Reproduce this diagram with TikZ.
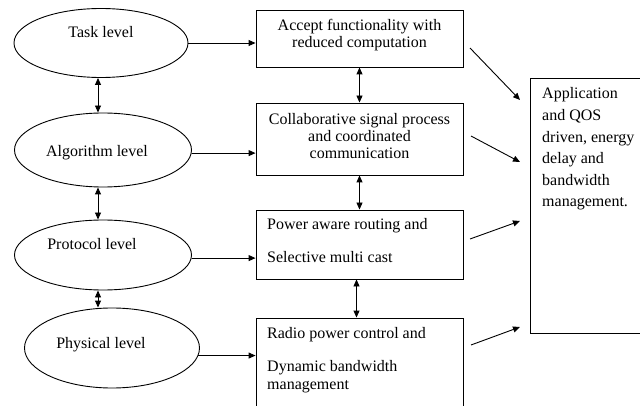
\documentclass[tikz,border=0pt]{standalone}
\usepackage{fontspec}
\setmainfont{Liberation Serif}
\usetikzlibrary{shapes.geometric,arrows.meta}
\begin{document}
\begin{tikzpicture}[x=1pt,y=-1pt,
  lw/.style={line width=0.9pt},
  lvl/.style={draw,lw,ellipse,inner sep=0pt},
  box/.style={draw,lw,rectangle,inner sep=0pt,minimum width=207pt},
  txt/.style={inner sep=0pt,font=\fontsize{16}{17.3}\selectfont},
  arr/.style={lw,-{Triangle[length=7pt,width=6pt]}},
  dbl/.style={lw,{Triangle[length=7pt,width=6pt]}-{Triangle[length=7pt,width=6pt]}}]
\useasboundingbox (0,0) rectangle (640,406);
\clip (0,0) rectangle (640,406);
% ellipses
\node[lvl,minimum width=174pt,minimum height=69pt] (task) at (101,43) {};
\node[lvl,minimum width=177pt,minimum height=74pt] (alg) at (103,150) {};
\node[lvl,minimum width=177pt,minimum height=70pt] (prot) at (103,255) {};
\node[lvl,minimum width=175pt,minimum height=80pt] (phys) at (112,348) {};
\node[txt,anchor=base] (tasktxt) at (101,38) {Task level};
\node[txt,anchor=base] (algtxt) at (97,157) {Algorithm level};
\node[txt,anchor=base] (prottxt) at (92,250) {Protocol level};
\node[txt,anchor=base] (phystxt) at (101,348) {Physical level};
% boxes
\node[box,minimum height=57pt] (box1) at (359.5,38.5) {};
\node[box,minimum height=72pt] (box2) at (359.5,139) {};
\node[box,minimum height=69pt] (box3) at (359.5,244.5) {};
\node[box,minimum height=102pt] (box4) at (359.5,369) {};
\node[draw,lw,rectangle,inner sep=0pt,minimum width=130pt,minimum height=255pt] (app) at (595,205.5) {};
\node[txt,anchor=base,align=center] (t1) at (359.5,48) {Accept functionality with\\reduced computation};
\node[txt,anchor=base,align=center] (t2) at (359.5,159) {Collaborative signal process\\and coordinated\\communication};
\node[txt,anchor=base west,align=left] (t3) at (267,262) {Power aware routing and\\[15pt]Selective multi cast};
\node[txt,anchor=base west,align=left] (t4) at (267,389) {Radio power control and\\[16pt]Dynamic bandwidth\\management};
\node[txt,anchor=base west,align=left,font=\fontsize{16}{21.6}\selectfont] (t5) at (542,207) {Application\\and QOS\\driven, energy\\delay and\\bandwidth\\management.};
% horizontal arrows
\draw[arr] (task.east) -- (task.east -| box1.west);
\draw[arr] (alg.-2) -- (alg.-2 -| box2.west);
\draw[arr] (prot.-2) -- (prot.-2 -| box3.west);
\draw[arr] (phys.-5) -- (phys.-5 -| box4.west);
% vertical arrows between ellipses
\draw[dbl] ([xshift=-3pt]task.south) -- ([xshift=-3pt]task.south |- alg.north);
\draw[dbl] ([xshift=-5pt]alg.south) -- ([xshift=-5pt]alg.south |- prot.north);
\draw[dbl] ([xshift=-5pt]prot.south) -- ([xshift=-5pt]prot.south |- phys.north);
% vertical arrows between boxes
\draw[dbl] (box1.south) -- (box2.north);
\draw[dbl] (box2.south) -- (box3.north);
\draw[dbl] ([xshift=-3pt]box3.south) -- ([xshift=-3pt]box4.north);
% diagonal arrows
\coordinate (d1s) at (470,48);  \coordinate (d1e) at (520,100);
\coordinate (d2s) at (471,136); \coordinate (d2e) at (520,162);
\coordinate (d3s) at (470,239); \coordinate (d3e) at (520,221);
\coordinate (d4s) at (471,345); \coordinate (d4e) at (520,327);
\draw[arr] (d1s) -- (d1e);
\draw[arr] (d2s) -- (d2e);
\draw[arr] (d3s) -- (d3e);
\draw[arr] (d4s) -- (d4e);
\end{tikzpicture}
\end{document}
